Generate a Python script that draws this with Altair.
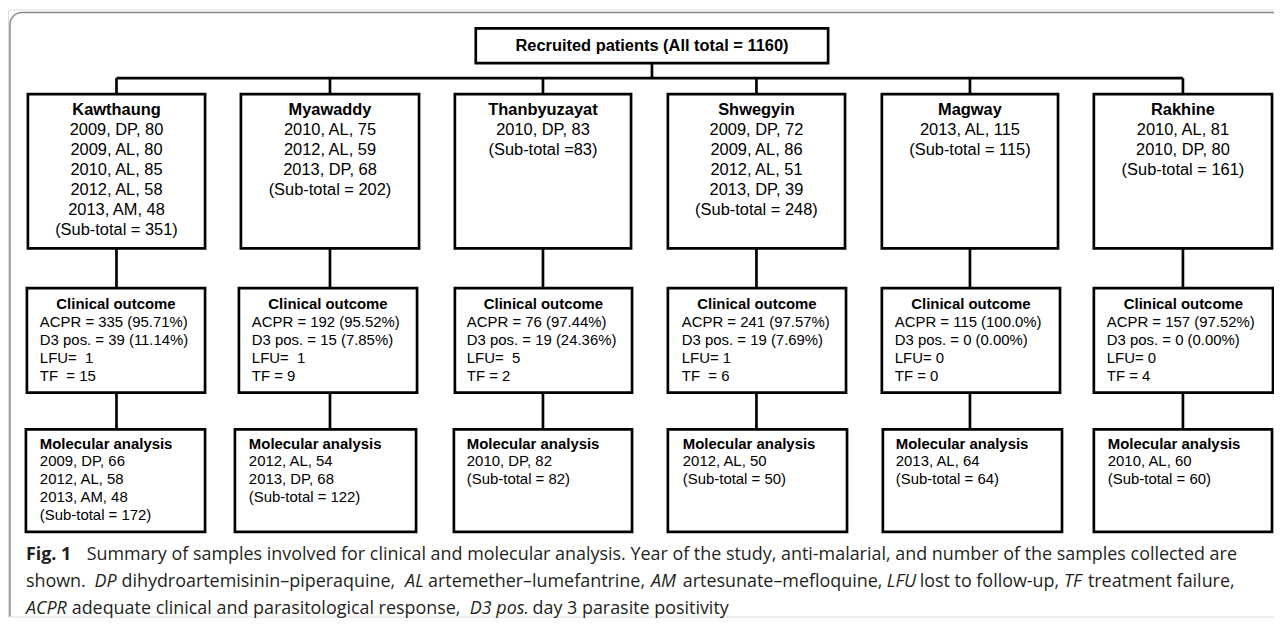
import altair as alt
import pandas as pd

# ---------------- data ----------------
total_label = "Recruited patients (All total = 1160)"
sites = ["Kawthaung", "Myawaddy", "Thanbyuzayat", "Shwegyin", "Magway", "Rakhine"]
recruited = [
    ["2009, DP, 80", "2009, AL, 80", "2010, AL, 85", "2012, AL, 58", "2013, AM, 48"],
    ["2010, AL, 75", "2012, AL, 59", "2013, DP, 68"],
    ["2010, DP, 83"],
    ["2009, DP, 72", "2009, AL, 86", "2012, AL, 51", "2013, DP, 39"],
    ["2013, AL, 115"],
    ["2010, AL, 81", "2010, DP, 80"],
]
recruited_subtotal = ["(Sub-total = 351)", "(Sub-total = 202)", "(Sub-total =83)",
                      "(Sub-total = 248)", "(Sub-total = 115)", "(Sub-total = 161)"]
clinical_title = "Clinical outcome"
clinical = [
    ["ACPR = 335 (95.71%)", "D3 pos. = 39 (11.14%)", "LFU=  1", "TF  = 15"],
    ["ACPR = 192 (95.52%)", "D3 pos. = 15 (7.85%)", "LFU=  1", "TF = 9"],
    ["ACPR = 76 (97.44%)", "D3 pos. = 19 (24.36%)", "LFU=  5", "TF = 2"],
    ["ACPR = 241 (97.57%)", "D3 pos. = 19 (7.69%)", "LFU= 1", "TF  = 6"],
    ["ACPR = 115 (100.0%)", "D3 pos. = 0 (0.00%)", "LFU= 0", "TF = 0"],
    ["ACPR = 157 (97.52%)", "D3 pos. = 0 (0.00%)", "LFU= 0", "TF = 4"],
]
molecular_title = "Molecular analysis"
molecular = [
    ["2009, DP, 66", "2012, AL, 58", "2013, AM, 48"],
    ["2012, AL, 54", "2013, DP, 68"],
    ["2010, DP, 82"],
    ["2012, AL, 50"],
    ["2013, AL, 64"],
    ["2010, AL, 60"],
]
molecular_subtotal = ["(Sub-total = 172)", "(Sub-total = 122)", "(Sub-total = 82)",
                      "(Sub-total = 50)", "(Sub-total = 64)", "(Sub-total = 60)"]

caption_text = [
    [("Fig. 1", "bold"),
     ("Summary of samples involved for clinical and molecular analysis. Year of the study, "
      "anti-malarial, and number of the samples collected are", "normal")],
    [("shown.", "normal"), ("DP", "italic"), ("dihydroartemisinin\u2013piperaquine,", "normal"),
     ("AL", "italic"), ("artemether\u2013lumefantrine,", "normal"), ("AM", "italic"),
     ("artesunate\u2013mefloquine,", "normal"), ("LFU", "italic"), ("lost to follow-up,", "normal"),
     ("TF", "italic"), ("treatment failure,", "normal")],
    [("ACPR", "italic"), ("adequate clinical and parasitological response,", "normal"),
     ("D3 pos.", "italic"), ("day 3 parasite positivity", "normal")],
]

# ---------------- layout (page pixels) ----------------
W, H = 1272, 610
OX, OY = 8, 8
top_box = (478, 832, 27, 62)
bus_y = 77
row1_l = [28, 242, 457, 671, 886, 1099]
row1_r = [206, 421, 634, 849, 1063, 1278]
row1_y = (93, 248)
row2_l = [27, 240, 457, 671, 886, 1099]
row2_r = [206, 419, 635, 850, 1065, 1279]
row2_y = (288, 393)
row3_l = [26, 236, 456, 671, 887, 1099]
row3_r = [206, 418, 635, 851, 1067, 1278]
row3_y = (430, 533)
row2_textx = [40, 253, 469, 685, 899, 1112]
row3_textx = [40, 250, 469, 686, 900, 1113]
caption_x = [[26, 87], [26, 95, 122, 407, 430, 654, 686, 891, 924, 1069, 1093], [26, 72, 472, 535]]
caption_y = [561, 588, 615]

xs = alt.Scale(domain=[OX, OX + W], nice=False, zero=False)
ys = alt.Scale(domain=[OY, OY + H], nice=False, zero=False, reverse=True)


def enc(**kw):
    out = {}
    for ch, f in kw.items():
        if ch in ("x", "x2"):
            out[ch] = alt.X(f, type="quantitative", scale=xs, axis=None) if ch == "x" else alt.X2(f)
        elif ch in ("y", "y2"):
            out[ch] = alt.Y(f, type="quantitative", scale=ys, axis=None) if ch == "y" else alt.Y2(f)
        else:
            out[ch] = f
    return out


def nb(s):
    return s.replace("  ", " \u00a0")


# boxes
boxes = [dict(x=top_box[0], x2=top_box[1], y=top_box[2], y2=top_box[3])]
for L, R, (y1, y2) in [(row1_l, row1_r, row1_y), (row2_l, row2_r, row2_y), (row3_l, row3_r, row3_y)]:
    for a, b in zip(L, R):
        boxes.append(dict(x=a, x2=b, y=y1, y2=y2))
boxes_df = pd.DataFrame(boxes)

# connectors
c1 = [(a + b) / 2 for a, b in zip(row1_l, row1_r)]
lines = [dict(x=(top_box[0] + top_box[1]) / 2, x2=(top_box[0] + top_box[1]) / 2, y=top_box[3], y2=bus_y),
         dict(x=c1[0], x2=c1[-1], y=bus_y, y2=bus_y)]
for i in range(6):
    lines.append(dict(x=c1[i], x2=c1[i], y=bus_y, y2=row1_y[0]))
    lines.append(dict(x=c1[i], x2=c1[i], y=row1_y[1], y2=row2_y[0]))
    lines.append(dict(x=c1[i], x2=c1[i], y=row2_y[1], y2=row3_y[0]))
lines_df = pd.DataFrame(lines)

frame_df = pd.DataFrame([dict(x=10, x2=1300, y=11, y2=640)])

# texts
bold_c, norm_c, bold_l, norm_l = [], [], [], []
bold_c.append(dict(x=(top_box[0] + top_box[1]) / 2, y=44.5, t=total_label))
for i, s in enumerate(sites):
    cx = c1[i]
    bold_c.append(dict(x=cx, y=109.3, t=s))
    rows = recruited[i] + [recruited_subtotal[i]]
    for j, r in enumerate(rows):
        norm_c.append(dict(x=cx, y=129.5 + 20.1 * j, t=r))
    cx2 = (row2_l[i] + row2_r[i]) / 2
    bold_l.append(dict(x=cx2, y=304, t=clinical_title, a="center"))
    for j, r in enumerate(clinical[i]):
        norm_l.append(dict(x=row2_textx[i], y=321.8 + 18.1 * j, t=nb(r)))
    bold_l.append(dict(x=row3_textx[i], y=444.3, t=molecular_title, a="left"))
    for j, r in enumerate(molecular[i] + [molecular_subtotal[i]]):
        norm_l.append(dict(x=row3_textx[i], y=461.8 + 18.1 * j, t=r))

big_bold = pd.DataFrame(bold_c)
big_norm = pd.DataFrame(norm_c)
small_bold_c = pd.DataFrame([d for d in bold_l if d["a"] == "center"])
small_bold_l = pd.DataFrame([d for d in bold_l if d["a"] == "left"])
small_norm = pd.DataFrame(norm_l)

cap_rows = []
for li, segs in enumerate(caption_text):
    for si, (t, st) in enumerate(segs):
        cap_rows.append(dict(x=caption_x[li][si], y=caption_y[li], t=t, s=st))
cap_df = pd.DataFrame(cap_rows)

FONT = "Liberation Sans"
CFONT = "Open Sans"

frame = alt.Chart(frame_df).mark_rect(filled=False, stroke="#8a8a8a", strokeWidth=1.5,
                                      cornerRadius=12, clip=True).encode(**enc(x="x", x2="x2", y="y", y2="y2"))
box_layer = alt.Chart(boxes_df).mark_rect(fill="white", stroke="black", strokeWidth=2.7).encode(
    **enc(x="x", x2="x2", y="y", y2="y2"))
line_layer = alt.Chart(lines_df).mark_rule(color="black", strokeWidth=2.7).encode(
    **enc(x="x", x2="x2", y="y", y2="y2"))


def tlayer(df, size, weight="normal", align="center", font=FONT, style="normal", baseline="middle",
           color="black"):
    return alt.Chart(df).mark_text(font=font, fontSize=size, fontWeight=weight, align=align,
                                   baseline=baseline, fontStyle=style, color=color).encode(
        **enc(x="x", y="y"), text=alt.Text("t:N"))


layers = [frame, line_layer, box_layer,
          tlayer(big_bold, 16.5, "bold"),
          tlayer(big_norm, 16.5),
          tlayer(small_bold_c, 15, "bold"),
          tlayer(small_bold_l, 15, "bold", "left"),
          tlayer(small_norm, 15, "normal", "left")]
for st in ["bold", "normal", "italic"]:
    sub = cap_df[cap_df.s == st]
    layers.append(tlayer(sub, 18, "bold" if st == "bold" else "normal", "left", CFONT,
                         "italic" if st == "italic" else "normal", "alphabetic", "#231f20"))

chart = alt.layer(*layers).properties(width=W, height=H, padding=0, autosize="none").configure_view(
    stroke=None).configure(background="white")

chart.save("out.html", embed_options={"renderer": "svg", "actions": False})
